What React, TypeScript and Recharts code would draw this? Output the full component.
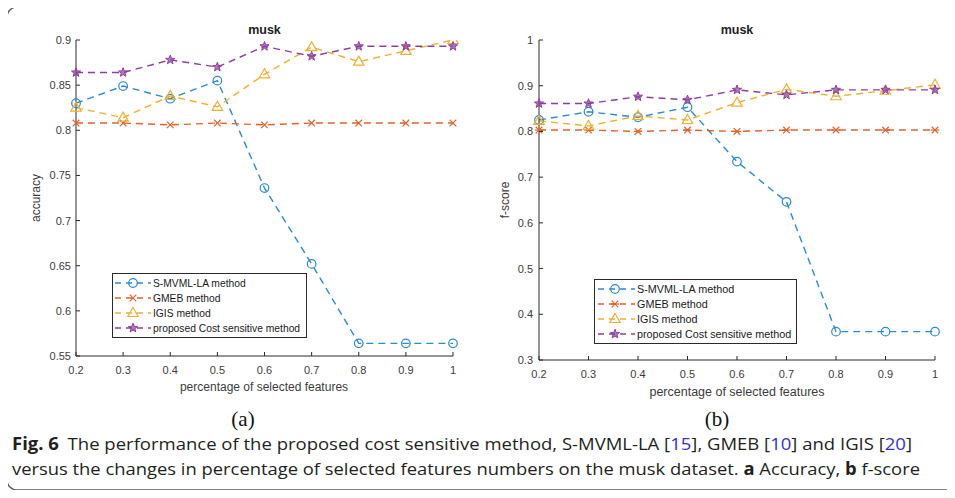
import React from 'react';
import { LineChart, Line, XAxis, YAxis, Legend } from 'recharts';

const xValues = [0.2, 0.3, 0.4, 0.5, 0.6, 0.7, 0.8, 0.9, 1];
const accSMVML = [0.83, 0.849, 0.835, 0.855, 0.736, 0.652, 0.564, 0.564, 0.564];
const accGMEB = [0.808, 0.808, 0.806, 0.808, 0.806, 0.808, 0.808, 0.808, 0.808];
const accIGIS = [0.825, 0.814, 0.838, 0.826, 0.862, 0.892, 0.876, 0.888, 0.9];
const accProposed = [0.864, 0.864, 0.878, 0.87, 0.893, 0.882, 0.893, 0.893, 0.893];
const fSMVML = [0.825, 0.843, 0.831, 0.853, 0.734, 0.646, 0.362, 0.362, 0.362];
const fGMEB = [0.803, 0.803, 0.8, 0.803, 0.8, 0.803, 0.803, 0.803, 0.803];
const fIGIS = [0.823, 0.812, 0.834, 0.825, 0.863, 0.892, 0.877, 0.889, 0.902];
const fProposed = [0.861, 0.861, 0.876, 0.869, 0.891, 0.88, 0.891, 0.891, 0.891];

const accTicks = [0.55, 0.6, 0.65, 0.7, 0.75, 0.8, 0.85, 0.9];
const fTicks = [0.3, 0.4, 0.5, 0.6, 0.7, 0.8, 0.9, 1];
const xTicks = [0.2, 0.3, 0.4, 0.5, 0.6, 0.7, 0.8, 0.9, 1];

const seriesNames = ['S-MVML-LA method', 'GMEB method', 'IGIS method', 'proposed Cost sensitive method'];
const seriesKeys = ['smvml', 'gmeb', 'igis', 'proposed'];
const seriesColors = ['#2a8ad2', '#e0632c', '#efb030', '#8e3f9e'];

const chartTitle = 'musk';
const xLabel = 'percentage of selected features';

const accData = xValues.map((x, i) => ({
  x,
  smvml: accSMVML[i],
  gmeb: accGMEB[i],
  igis: accIGIS[i],
  proposed: accProposed[i],
}));
const fData = xValues.map((x, i) => ({
  x,
  smvml: fSMVML[i],
  gmeb: fGMEB[i],
  igis: fIGIS[i],
  proposed: fProposed[i],
}));

const AXIS = '#2a2a2a';
const TICKTXT = '#3c3c3c';
const FONT = '"Liberation Sans", Arial, Helvetica, sans-serif';

const fmt = (v: number) => String(Number(v.toFixed(2)));

function starPoints(r: number, r2: number) {
  const pts: string[] = [];
  for (let i = 0; i < 10; i++) {
    const rad = i % 2 === 0 ? r : r2;
    const a = -Math.PI / 2 + (i * Math.PI) / 5;
    pts.push(`${(rad * Math.cos(a)).toFixed(2)},${(rad * Math.sin(a)).toFixed(2)}`);
  }
  return pts.join(' ');
}

function Marker({ kind, color, cx, cy, asterisk }: any) {
  const sw = 1.2;
  let shape: any = null;
  if (kind === 'smvml') {
    shape = <circle cx={0} cy={0} r={4.3} fill="none" stroke={color} strokeWidth={sw} />;
  } else if (kind === 'gmeb') {
    shape = (
      <g stroke={color} strokeWidth={sw}>
        <line x1={-3.3} y1={-3.3} x2={3.3} y2={3.3} />
        <line x1={-3.3} y1={3.3} x2={3.3} y2={-3.3} />
        {asterisk ? <line x1={-4.2} y1={0} x2={4.2} y2={0} /> : null}
      </g>
    );
  } else if (kind === 'igis') {
    shape = <polygon points="0,-5.5 5.2,3.5 -5.2,3.5" fill="none" stroke={color} strokeWidth={sw} />;
  } else {
    shape = (
      <polygon points={starPoints(4.8, 2.0)} fill={color} fillOpacity={0.7} stroke={color} strokeWidth={1} />
    );
  }
  return <g transform={`translate(${cx},${cy})`}>{shape}</g>;
}

const makeDot = (kind: string, color: string, asterisk: boolean) => (p: any) => (
  <g key={`${kind}-${p.index}`}>
    {p.cx != null && p.cy != null ? (
      <Marker kind={kind} color={color} cx={p.cx} cy={p.cy} asterisk={asterisk} />
    ) : null}
  </g>
);

const YTick = (gap: number) => (props: any) => {
  const { x, y, payload } = props;
  const ax = x + gap;
  return (
    <g>
      <line x1={ax} y1={y} x2={ax + 4} y2={y} stroke={AXIS} strokeWidth={1} />
      <text x={x} y={y + 4} textAnchor="end" fontSize={11} fontFamily={FONT} fill={TICKTXT}>
        {fmt(payload.value)}
      </text>
    </g>
  );
};

const XTick = (gap: number, base: number) => (props: any) => {
  const { x, y, payload } = props;
  const ay = y - gap;
  return (
    <g>
      <line x1={x} y1={ay} x2={x} y2={ay - 4} stroke={AXIS} strokeWidth={1} />
      <text x={x} y={ay + base} textAnchor="middle" fontSize={11} fontFamily={FONT} fill={TICKTXT}>
        {fmt(payload.value)}
      </text>
    </g>
  );
};

const makeLegend = (opts: { w: number; h: number; lineX1: number; lineX2: number; markX: number; textX: number; rowTop: number; fontSize: number; asterisk: boolean }) => () => (
  <svg width={opts.w} height={opts.h} style={{ display: 'block' }}>
    <rect x={0.5} y={0.5} width={opts.w - 1} height={opts.h - 1} fill="#fff" stroke={AXIS} strokeWidth={1} />
    {seriesNames.map((name, i) => {
      const cy = opts.rowTop + i * 15;
      return (
        <g key={name}>
          <line x1={opts.lineX1} y1={cy} x2={opts.lineX2} y2={cy} stroke={seriesColors[i]} strokeWidth={1.3} strokeDasharray="6 5" />
          <Marker kind={seriesKeys[i]} color={seriesColors[i]} cx={opts.markX} cy={cy} asterisk={opts.asterisk} />
          <text x={opts.textX} y={cy + 4} fontSize={opts.fontSize} fontFamily={FONT} fill="#1a1a1a">
            {name}
          </text>
        </g>
      );
    })}
  </svg>
);

function Panel({ data, ticks, domain, asterisk, width, height, margin, yWidth, yGap, xGap, xBase, legendPos, legendOpts }: any) {
  return (
    <LineChart width={width} height={height} data={data} margin={margin}>
      <XAxis
        dataKey="x"
        type="number"
        domain={[0.2, 1]}
        ticks={xTicks}
        interval={0}
        height={30}
        tickSize={0}
        tickMargin={xGap}
        tickLine={false}
        axisLine={{ stroke: AXIS, strokeWidth: 1 }}
        tick={XTick(xGap, xBase)}
      />
      <YAxis
        type="number"
        domain={domain}
        ticks={ticks}
        interval={0}
        width={yWidth}
        tickSize={0}
        tickMargin={yGap}
        tickLine={false}
        axisLine={{ stroke: AXIS, strokeWidth: 1 }}
        tick={YTick(yGap)}
        allowDataOverflow
      />
      {seriesKeys.map((k, i) => (
        <Line
          key={k}
          dataKey={k}
          name={seriesNames[i]}
          stroke={seriesColors[i]}
          strokeWidth={1.4}
          strokeDasharray="7 5"
          isAnimationActive={false}
          dot={makeDot(k, seriesColors[i], asterisk)}
          activeDot={false}
        />
      ))}
      <Legend
        layout="vertical"
        align="center"
        verticalAlign="middle"
        content={makeLegend(legendOpts)}
        wrapperStyle={{ position: 'absolute', left: legendPos.left, top: legendPos.top, width: legendOpts.w, height: legendOpts.h }}
      />
    </LineChart>
  );
}

export default function App() {
  return (
    <div style={{ position: 'relative', width: 955, height: 498, margin: -8, background: '#fff', overflow: 'hidden' }}>
      <div style={{ position: 'absolute', left: 0, top: 0 }}>
        <Panel
          data={accData}
          ticks={accTicks}
          domain={[0.55, 0.9]}
          asterisk={false}
          width={480}
          height={420}
          margin={{ top: 40, right: 27, bottom: 34, left: 16 }}
          yWidth={60}
          yGap={5}
          xGap={8}
          xBase={18}
          legendPos={{ left: 112, top: 273 }}
          legendOpts={{ w: 195, h: 65, lineX1: 3, lineX2: 39, markX: 21, textX: 41, rowTop: 10, fontSize: 10.3, asterisk: false }}
        />
      </div>
      <div style={{ position: 'absolute', left: 480, top: 0 }}>
        <Panel
          data={fData}
          ticks={fTicks}
          domain={[0.3, 1]}
          asterisk={true}
          width={475}
          height={420}
          margin={{ top: 40, right: 20, bottom: 30, left: 9 }}
          yWidth={50}
          yGap={6}
          xGap={8}
          xBase={18}
          legendPos={{ left: 114, top: 279 }}
          legendOpts={{ w: 203, h: 65, lineX1: 4, lineX2: 41, markX: 21, textX: 43, rowTop: 10, fontSize: 10.8, asterisk: true }}
        />
      </div>
      <svg width={955} height={498} style={{ position: 'absolute', left: 0, top: 0, pointerEvents: 'none' }}>
        <rect x={7} y={7} width={1000} height={483} rx={10} ry={10} fill="none" stroke="#5a5a5a" strokeWidth={1.3} />
        <text x={264.5} y={34} textAnchor="middle" fontSize={12.5} fontWeight={700} fontFamily={FONT} fill="#222">{chartTitle}</text>
        <text x={737} y={34} textAnchor="middle" fontSize={12.5} fontWeight={700} fontFamily={FONT} fill="#222">{chartTitle}</text>
        <text transform="translate(40,198) rotate(-90)" textAnchor="middle" fontSize={12} fontFamily={FONT} fill={TICKTXT}>accuracy</text>
        <text transform="translate(509,200) rotate(-90)" textAnchor="middle" fontSize={12} fontFamily={FONT} fill={TICKTXT}>f-score</text>
        <text x={264} y={391} textAnchor="middle" fontSize={12} fontFamily={FONT} fill={TICKTXT}>{xLabel}</text>
        <text x={737} y={396} textAnchor="middle" fontSize={12.5} fontFamily={FONT} fill={TICKTXT}>{xLabel}</text>
        <text x={243} y={426} textAnchor="middle" fontSize={21} fontFamily='"Liberation Serif", "DejaVu Serif", serif' fill="#111">(a)</text>
        <text x={717} y={426} textAnchor="middle" fontSize={21} fontFamily='"Liberation Serif", "DejaVu Serif", serif' fill="#111">(b)</text>
        <text x={12} y={450} textLength={900} lengthAdjust="spacingAndGlyphs" fontSize={17} fontFamily='"Open Sans", "Noto Sans", sans-serif' fill="#231f20">
          <tspan fontWeight={700}>Fig. 6</tspan>
          <tspan dx={8}>The performance of the proposed cost sensitive method, S-MVML-LA [</tspan>
          <tspan fill="#2f2fe0">15</tspan>
          <tspan>], GMEB [</tspan>
          <tspan fill="#2f2fe0">10</tspan>
          <tspan>] and IGIS [</tspan>
          <tspan fill="#2f2fe0">20</tspan>
          <tspan>]</tspan>
        </text>
        <text x={12} y={475} textLength={908} lengthAdjust="spacingAndGlyphs" fontSize={17} fontFamily='"Open Sans", "Noto Sans", sans-serif' fill="#231f20">
          <tspan>versus the changes in percentage of selected features numbers on the musk dataset. </tspan>
          <tspan fontWeight={700}>a</tspan>
          <tspan> Accuracy, </tspan>
          <tspan fontWeight={700}>b</tspan>
          <tspan> f-score</tspan>
        </text>
      </svg>
    </div>
  );
}
